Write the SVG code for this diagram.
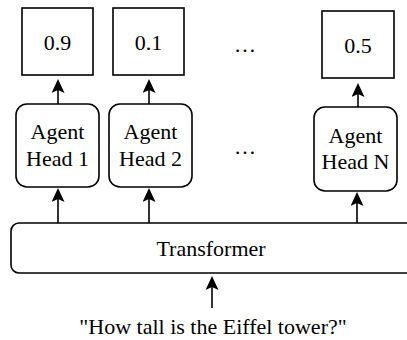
<svg xmlns="http://www.w3.org/2000/svg" width="407" height="340" viewBox="0 0 407 340">
<style>
.box{fill:#fff;stroke:#000;stroke-width:1.6}
.t{font-family:"Liberation Serif","Times New Roman",serif;font-size:22px;fill:#000;text-anchor:middle}
.c{stroke:#000;stroke-width:1.6;fill:none;marker-end:url(#ah)}
</style>
<defs>
<marker id="ah" markerUnits="userSpaceOnUse" viewBox="0 0 14 13" refX="3" refY="6.5" markerWidth="14" markerHeight="13" orient="auto">
<path d="M0,0 L14,6.5 L0,13 L3,6.5 z" fill="#000"/>
</marker>
</defs>
<rect width="407" height="340" fill="#fff"/>
<g id="out1"><rect class="box" x="22" y="8" width="71" height="67"/><text class="t" x="57.5" y="50">0.9</text></g>
<g id="out2"><rect class="box" x="113" y="8" width="71" height="67"/><text class="t" x="148.5" y="50">0.1</text></g>
<g id="out3"><rect class="box" x="322" y="11" width="72" height="67"/><text class="t" x="358" y="53">0.5</text></g>
<g id="dots1"><text class="t" x="245" y="52">…</text></g>
<g id="dots2"><text class="t" x="245" y="154">…</text></g>
<g id="head1"><rect class="box" x="16" y="104" width="83" height="83" rx="11"/><text class="t" x="57.5" y="139">Agent</text><text class="t" x="57.5" y="166">Head 1</text></g>
<g id="head2"><rect class="box" x="109" y="104" width="83" height="83" rx="11"/><text class="t" x="150.5" y="139">Agent</text><text class="t" x="150.5" y="166">Head 2</text></g>
<g id="headN"><rect class="box" x="314" y="107" width="83" height="84" rx="11"/><text class="t" x="355.5" y="143">Agent</text><text class="t" x="355.5" y="169">Head N</text></g>
<g id="transformer"><rect class="box" x="11" y="223" width="410" height="50" rx="8"/><text class="t" x="211" y="256">Transformer</text></g>
<g id="query"><text class="t" x="213" y="334">"How tall is the Eiffel tower?"</text></g>
<g id="connectors">
<line class="c" x1="58" y1="104" x2="58" y2="90"/>
<line class="c" x1="149" y1="104" x2="149" y2="90"/>
<line class="c" x1="358" y1="107" x2="358" y2="94"/>
<line class="c" x1="58" y1="223" x2="58" y2="199"/>
<line class="c" x1="149" y1="223" x2="149" y2="199"/>
<line class="c" x1="357" y1="223" x2="357" y2="203"/>
<line class="c" x1="212" y1="308" x2="212" y2="287"/>
</g>
</svg>
